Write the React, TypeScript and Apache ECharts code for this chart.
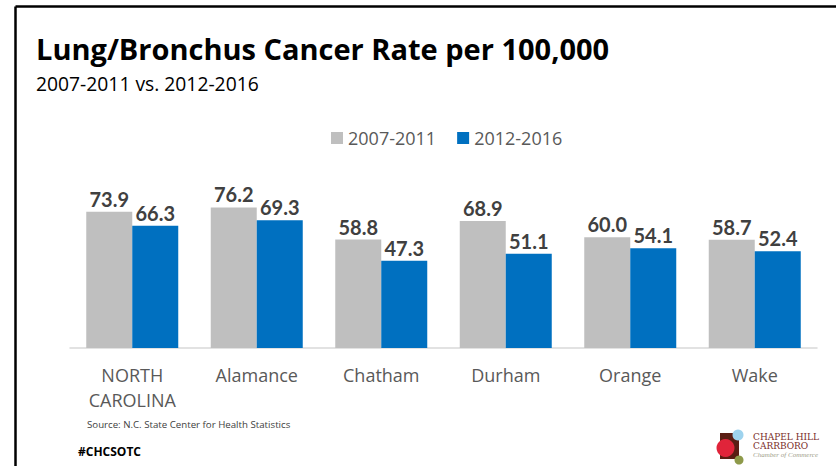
import React, { useEffect, useRef } from "react";
import * as echarts from "echarts";

const categories = ["NORTH\nCAROLINA", "Alamance", "Chatham", "Durham", "Orange", "Wake"];
const series2007 = [73.9, 76.2, 58.8, 68.9, 60.0, 58.7];
const series2012 = [66.3, 69.3, 47.3, 51.1, 54.1, 52.4];
const seriesNames = ["2007-2011", "2012-2016"];

const FONT = "'Open Sans', 'Noto Sans', sans-serif";

export default function App() {
  const ref = useRef<HTMLDivElement>(null);
  useEffect(() => {
    if (!ref.current) return;
    const chart = echarts.init(ref.current, null, { renderer: "svg" });
    const valueLabel = {
      show: true,
      position: "top",
      distance: 3,
      fontFamily: "Lato, 'Open Sans', sans-serif",
      fontWeight: "bold",
      fontSize: 20,
      color: "#404040",
      formatter: (p: any) => Number(p.value).toFixed(1),
    };
    chart.setOption({
      animation: false,
      backgroundColor: "#ffffff",
      legend: {
        left: 331,
        top: 129,
        padding: 0,
        itemWidth: 12,
        itemHeight: 12,
        itemGap: 21,
        icon: "rect",
        textStyle: { fontFamily: FONT, fontSize: 18, color: "#595959" },
        data: seriesNames,
      },
      grid: { left: 70, right: 19, top: 163.5, bottom: 118 },
      xAxis: {
        type: "category",
        data: categories,
        axisLine: { lineStyle: { color: "#D9D9D9", width: 1.5 } },
        axisTick: { show: false },
        axisLabel: {
          fontFamily: FONT,
          fontSize: 18,
          color: "#595959",
          margin: 14,
          lineHeight: 25,
          verticalAlign: "top",
        },
      },
      yAxis: { type: "value", min: 0, max: 100, show: false, splitLine: { show: false } },
      series: [
        {
          name: seriesNames[0],
          type: "bar",
          data: series2007,
          barWidth: 46,
          barGap: "0%",
          itemStyle: { color: "#BFBFBF" },
          label: valueLabel,
        },
        {
          name: seriesNames[1],
          type: "bar",
          data: series2012,
          barWidth: 46,
          barGap: "0%",
          itemStyle: { color: "#0070C0" },
          label: valueLabel,
        },
      ],
      graphic: [
        { type: "line", shape: { x1: 15.5, y1: 6.5, x2: 836, y2: 6.5 }, style: { stroke: "#000", lineWidth: 2.5 } },
        { type: "line", shape: { x1: 15.5, y1: 6.5, x2: 15.5, y2: 466 }, style: { stroke: "#000", lineWidth: 2.5 } },
        {
          type: "text",
          x: 36,
          y: 48,
          style: {
            text: "Lung/Bronchus Cancer Rate per 100,000",
            fontFamily: FONT,
            fontWeight: "bold",
            fontSize: 29,
            fill: "#000",
            verticalAlign: "middle",
          },
        },
        {
          type: "text",
          x: 36,
          y: 83,
          style: {
            text: "2007-2011 vs. 2012-2016",
            fontFamily: FONT,
            fontSize: 19.3,
            fill: "#000",
            verticalAlign: "middle",
          },
        },
        {
          type: "text",
          x: 87,
          y: 424,
          style: {
            text: "Source: N.C. State Center for Health Statistics",
            fontFamily: FONT,
            fontSize: 9.7,
            fill: "#404040",
            verticalAlign: "middle",
          },
        },
        {
          type: "text",
          x: 78,
          y: 451,
          style: {
            text: "#CHCSOTC",
            fontFamily: FONT,
            fontWeight: "bold",
            fontSize: 12,
            fill: "#000",
            verticalAlign: "middle",
          },
        },
        { type: "rect", shape: { x: 720, y: 433, width: 19, height: 26 }, style: { fill: "#5A1E14" } },
        { type: "circle", shape: { cx: 725.5, cy: 448, r: 9 }, style: { fill: "#E0243A" } },
        { type: "circle", shape: { cx: 738, cy: 435, r: 5.5 }, style: { fill: "#9ED3EE" } },
        { type: "circle", shape: { cx: 739, cy: 460, r: 4.5 }, style: { fill: "#8E9A4A" } },
        {
          type: "text",
          x: 753,
          y: 437,
          style: { text: "CHAPEL HILL", fontFamily: "'DejaVu Serif', 'Liberation Serif', serif", fontSize: 9, fill: "#7A2E2A", verticalAlign: "middle" },
        },
        {
          type: "text",
          x: 753,
          y: 445.5,
          style: { text: "CARRBORO", fontFamily: "'DejaVu Serif', 'Liberation Serif', serif", fontSize: 9, fill: "#7A2E2A", verticalAlign: "middle" },
        },
        {
          type: "text",
          x: 753,
          y: 454.5,
          style: { text: "Chamber of Commerce", fontFamily: "'Liberation Serif', serif", fontStyle: "italic", fontSize: 7, fill: "#A0A08A", verticalAlign: "middle" },
        },
      ],
    });
    return () => chart.dispose();
  }, []);
  return <div ref={ref} style={{ position: "fixed", left: 0, top: 0, width: 836, height: 466 }} />;
}
